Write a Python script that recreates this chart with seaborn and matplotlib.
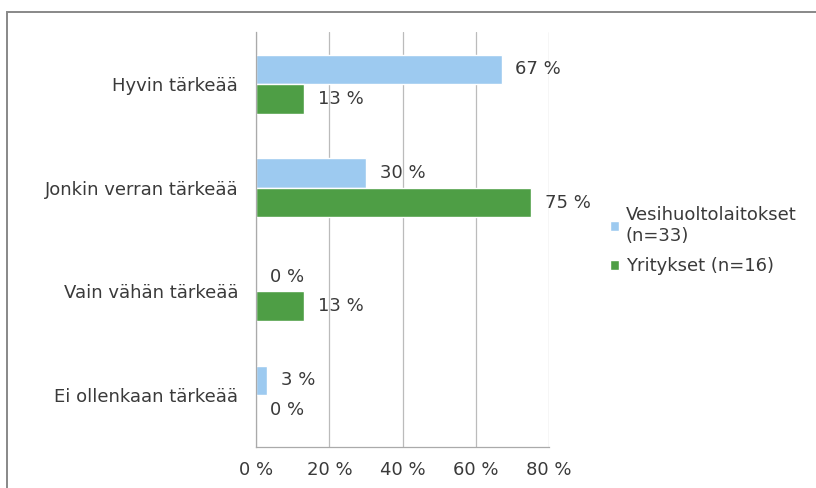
import matplotlib
matplotlib.use("Agg")
import matplotlib.pyplot as plt
import seaborn as sns
import pandas as pd
from matplotlib.patches import Rectangle

# data
categories = ["Hyvin tärkeää", "Jonkin verran tärkeää", "Vain vähän tärkeää", "Ei ollenkaan tärkeää"]
series = ["Vesihuoltolaitokset\n(n=33)", "Yritykset (n=16)"]
vesihuolto = [67, 30, 0, 3]
yritykset = [13, 75, 13, 0]
xticks = [0, 20, 40, 60, 80]

df = pd.DataFrame({
    "kategoria": categories * 2,
    "arvo": vesihuolto + yritykset,
    "ryhma": [series[0]] * 4 + [series[1]] * 4,
})

sns.set_style("white")
plt.rcParams["font.family"] = ["DejaVu Sans"]
FS = 13
TXT = "#3A3A3A"

fig = plt.figure(figsize=(8.16, 4.88), dpi=100)
ax = fig.add_axes([0.314, 0.084, 0.359, 0.85])

colors = ["#9DCAF0", "#4E9E45"]
sns.barplot(data=df, y="kategoria", x="arvo", hue="ryhma", order=categories,
            hue_order=series, palette=colors, orient="h", width=0.57,
            gap=0, saturation=1, ax=ax, legend=True)

for cont, vals in zip(ax.containers, [vesihuolto, yritykset]):
    ax.bar_label(cont, labels=[f"{v} %" for v in vals], padding=10,
                 fontsize=FS, color=TXT)

ax.set_xlim(0, 80)
ax.set_ylim(3.5, -0.5)
ax.set_xticks(xticks)
ax.set_xticklabels([f"{t} %" for t in xticks], fontsize=FS, color=TXT)
ax.tick_params(axis="y", labelsize=FS, labelcolor=TXT, length=0, pad=13)
ax.tick_params(axis="x", length=5, color="#999999", direction="out", pad=5)
ax.set_xlabel("")
ax.set_ylabel("")
ax.grid(axis="x", color="#BBBBBB", lw=0.9)
ax.set_axisbelow(True)
for s in ["top", "right"]:
    ax.spines[s].set_visible(False)
for s in ["left", "bottom"]:
    ax.spines[s].set_color("#AAAAAA")
    ax.spines[s].set_linewidth(0.9)
# small ticks between categories on the y axis
ax.set_yticks([-0.5, 0.5, 1.5, 2.5, 3.5], minor=True)
ax.tick_params(axis="y", which="minor", length=5, color="#999999")

h, l = ax.get_legend_handles_labels()
ax.legend(h, l, loc="upper left", bbox_to_anchor=(0.747, 0.578),
          bbox_transform=fig.transFigure, frameon=False, fontsize=FS,
          handlelength=0.5, handleheight=0.5, handletextpad=0.4,
          labelspacing=0.7, labelcolor=TXT, borderaxespad=0, borderpad=0)

fig.patches.append(Rectangle((0.009, -0.1), 1.2, 1.075, transform=fig.transFigure,
                             fill=False, edgecolor="#888888", lw=1.4))

fig.savefig("out.png", dpi=100)
